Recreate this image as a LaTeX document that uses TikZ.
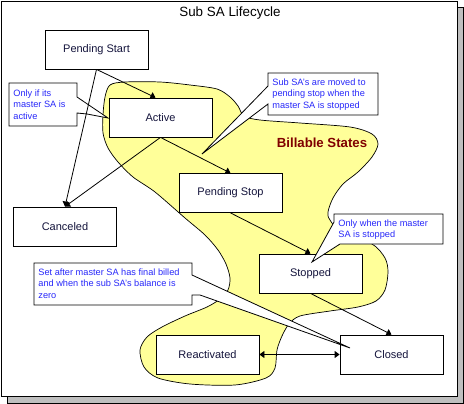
\documentclass[tikz,border=0pt]{standalone}
\usepackage{fontspec}
\setmainfont{Liberation Sans}
\usetikzlibrary{arrows.meta}
\definecolor{billable}{RGB}{255,255,153}
\definecolor{notetext}{RGB}{40,40,250}
\definecolor{billred}{RGB}{128,0,0}
\definecolor{boxtext}{RGB}{20,20,60}
\begin{document}
\begin{tikzpicture}[x=1pt,y=-1pt,line width=0.8pt,
  lcbox/.style={draw,fill=white,minimum width=103pt,minimum height=39pt,
    font=\fontsize{11}{13}\selectfont,text=boxtext},
  note/.style={draw,fill=white},
  notetxt/.style={anchor=north west,inner sep=0pt,align=left,text=notetext,
    font=\fontsize{9.2}{11.3}\selectfont},
  >={Triangle[length=5pt,width=7pt]}]
\useasboundingbox (0,0) rectangle (464,404);
% frame with shadow
\filldraw[fill=black!25] (7,7) rectangle (463,403);
\filldraw[fill=white] (1,1) rectangle (457,396);
\node[font=\fontsize{13.4}{15}\selectfont] (title) at (230,13) {Sub SA Lifecycle};
% billable region
\filldraw[fill=billable,line width=0.7pt] plot[smooth cycle,tension=0.5] coordinates {
  (110,85) (125,82) (160,82) (190,85) (217,89) (230,97) (238,106) (244,116)
  (260,120) (300,123) (350,127) (372,134) (378,144) (372,157) (358,172)
  (343,184) (333,198) (328,212) (330,220) (345,238) (372,244) (385,258)
  (388,272) (385,290) (376,301) (358,307) (330,311) (300,316) (289,324)
  (282,336) (277,350) (275,368) (266,378) (235,385) (190,384) (158,378)
  (144,367) (140,350) (147,337) (162,327) (185,316) (207,307) (220,299)
  (228,290) (230,278) (226,264) (218,250) (205,235) (185,218) (155,192)
  (133,177) (118,162) (108,148) (103,133) (103,115) (105,97)};
\node[font=\bfseries\fontsize{13.2}{15}\selectfont,text=billred] (bill) at (322,143) {Billable States};

% states
\node[lcbox] (1) at (96.5,49.5) {Pending Start};
\node[lcbox] (2) at (160.5,117.5) {Active};
\node[lcbox] (3) at (65,226.5) {Canceled};
\node[lcbox] (4) at (230.5,193) {Pending Stop};
\node[lcbox] (5) at (310.5,273.5) {Stopped};
\node[lcbox] (6) at (207.5,354.5) {Reactivated};
\node[lcbox] (7) at (391.5,354.5) {Closed};

% notes
\filldraw[note] (9,83) -- (77,83) -- (77,97) -- (108,118) -- (87,114) -- (77,113) -- (77,126) -- (9,126) -- cycle;
\node[notetxt] (n1) at (13,89.5) {Only if its\\master SA is\\active};
\filldraw[note] (268,73) -- (378,73) -- (378,115) -- (268,115) -- (268,104) -- (202,154) -- (268,86) -- cycle;
\node[notetxt] (n2) at (272,78.5) {Sub SA's are moved to\\pending stop when the\\master SA is stopped};
\filldraw[note] (334,214) -- (443,214) -- (443,244) -- (340,244) -- (312,262) -- (334,222) -- cycle;
\node[notetxt] (n3) at (338,219.5) {Only when the master\\SA is stopped};
\filldraw[note] (34,263) -- (192,263) -- (192,275) -- (350,348) -- (200,295) -- (192,295) -- (192,305) -- (34,305) -- cycle;
\node[notetxt] (n4) at (38,268.5) {Set after master SA has final billed\\and when the sub SA's balance is\\zero};

% transitions
\path[draw,->] (1.south) -- ([xshift=-5pt]2.north);
\path[draw,->] (1.south) -- (3.north);
\path[draw,->] (2.south) -- (3.north);
\path[draw,->] (2.south) -- (4.north);
\path[draw,->] (4.south) -- (5.north);
\path[draw,->] (5.south) -- (7.north);
\path[draw,<->] (6.east) -- (7.west);
\end{tikzpicture}
\end{document}
